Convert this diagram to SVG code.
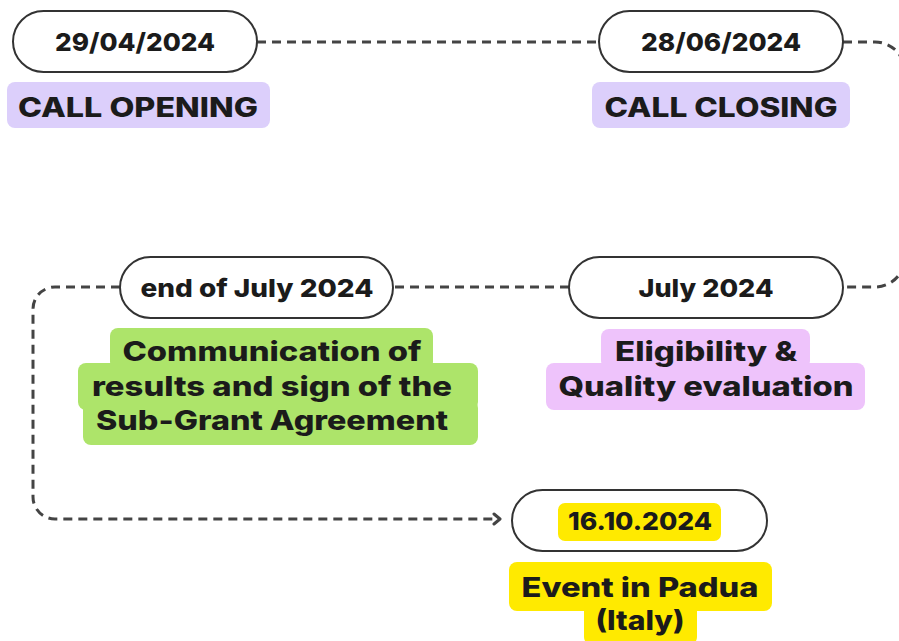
<svg xmlns="http://www.w3.org/2000/svg" width="899" height="641" viewBox="0 0 899 641">
<defs>
<style>
.pill{fill:#fff;stroke:#333;stroke-width:2}
.t{font-family:Inter,"DejaVu Sans","Liberation Sans",sans-serif;font-weight:800;fill:#1b1b1b;text-anchor:middle;font-size:27px}
.d{font-size:25px}
.c{fill:none;stroke:#444;stroke-width:3;stroke-dasharray:9 6}
.purple{fill:#dccffb}
.mag{fill:#eec3fb}
.green{fill:#ade46a}
.yellow{fill:#ffea00}
</style>
<marker id="arr" markerWidth="12" markerHeight="14" refX="9" refY="7" orient="auto" markerUnits="userSpaceOnUse">
<path d="M3,2 L9,7 L3,12" fill="none" stroke="#444" stroke-width="3" stroke-linecap="round" stroke-linejoin="round"/>
</marker>
</defs>
<rect width="899" height="641" fill="#fff"/>
<g id="connectors">
<path class="c" d="M257,42 H599"/>
<path class="c" d="M843,42 H875 A30,30 0 0 1 905,72 V257 A30,30 0 0 1 875,287 H843"/>
<path class="c" d="M569,287 H393"/>
<path class="c" d="M120,287 H55 A22,22 0 0 0 33,309 V497 A22,22 0 0 0 55,519 H500" marker-end="url(#arr)"/>
</g>
<g id="node-call-opening">
<rect class="pill" x="13" y="11" width="244" height="61" rx="30.5"/>
<text class="t d" x="135" y="51" textLength="160" lengthAdjust="spacingAndGlyphs">29/04/2024</text>
<rect class="purple" x="7" y="82" width="263" height="46" rx="8"/>
<text class="t" x="138" y="117" font-size="28" textLength="240" lengthAdjust="spacingAndGlyphs">CALL OPENING</text>
</g>
<g id="node-call-closing">
<rect class="pill" x="599" y="11" width="244" height="61" rx="30.5"/>
<text class="t d" x="721" y="51" textLength="160" lengthAdjust="spacingAndGlyphs">28/06/2024</text>
<rect class="purple" x="592" y="82" width="258" height="46" rx="8"/>
<text class="t" x="721" y="117" font-size="28" textLength="233" lengthAdjust="spacingAndGlyphs">CALL CLOSING</text>
</g>
<g id="node-evaluation">
<rect class="pill" x="569" y="257" width="274" height="61" rx="30.5"/>
<text class="t d" x="706" y="297" textLength="135" lengthAdjust="spacingAndGlyphs">July 2024</text>
<rect class="mag" x="601" y="329" width="209" height="40" rx="8"/>
<rect class="mag" x="546" y="363" width="319" height="47" rx="8"/>
<text class="t" x="706" y="361" textLength="182" lengthAdjust="spacingAndGlyphs">Eligibility &amp;</text>
<text class="t" x="706" y="396" textLength="295" lengthAdjust="spacingAndGlyphs">Quality evaluation</text>
</g>
<g id="node-communication">
<rect class="pill" x="120" y="257" width="273" height="61" rx="30.5"/>
<text class="t d" x="257" y="297" textLength="233" lengthAdjust="spacingAndGlyphs">end of July 2024</text>
<rect class="green" x="110" y="328" width="323" height="42" rx="8"/>
<rect class="green" x="78" y="363" width="400" height="47" rx="8"/>
<rect class="green" x="83" y="400" width="395" height="45" rx="8"/>
<text class="t" x="272" y="361" textLength="299" lengthAdjust="spacingAndGlyphs">Communication of</text>
<text class="t" x="272" y="396" textLength="360" lengthAdjust="spacingAndGlyphs">results and sign of the</text>
<text class="t" x="272" y="430" textLength="352" lengthAdjust="spacingAndGlyphs">Sub-Grant Agreement</text>
</g>
<g id="node-event">
<rect class="pill" x="512" y="490" width="255" height="61" rx="30.5"/>
<rect class="yellow" x="558" y="503" width="163" height="38" rx="7"/>
<text class="t d" x="640" y="530" textLength="144" lengthAdjust="spacingAndGlyphs">16.10.2024</text>
<rect class="yellow" x="509" y="562" width="263" height="49" rx="8"/>
<rect class="yellow" x="584" y="600" width="113" height="45" rx="8"/>
<text class="t" x="640" y="597" textLength="237" lengthAdjust="spacingAndGlyphs">Event in Padua</text>
<text class="t" x="640" y="630" textLength="89" lengthAdjust="spacingAndGlyphs">(Italy)</text>
</g>
</svg>
